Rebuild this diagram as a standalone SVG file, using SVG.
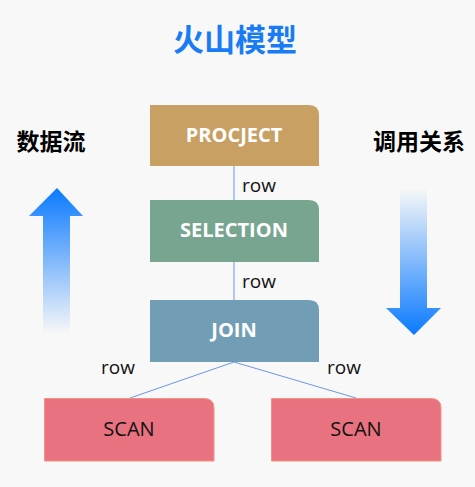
<svg xmlns="http://www.w3.org/2000/svg" width="475" height="487" viewBox="0 0 475 487">
<defs>
<linearGradient id="gUp" x1="0" y1="0" x2="0" y2="1">
<stop offset="0" stop-color="#0a7aff"/>
<stop offset="1" stop-color="#0a7aff" stop-opacity="0"/>
</linearGradient>
<linearGradient id="gDown" x1="0" y1="0" x2="0" y2="1">
<stop offset="0" stop-color="#0a7aff" stop-opacity="0"/>
<stop offset="1" stop-color="#0a7aff"/>
</linearGradient>
<style>
.t{font-family:"Open Sans","Liberation Sans",sans-serif;}
.nt{font-size:20px;font-weight:bold;fill:#ffffff;text-anchor:middle;}
.st{font-size:20px;fill:#111111;text-anchor:middle;}
.row{font-size:19px;fill:#111111;}
.cj{font-family:"Noto Sans CJK SC","Noto Sans",sans-serif;font-weight:bold;}
.ln{stroke:#6a96e8;stroke-width:1;fill:none;}
</style>
</defs>
<rect width="475" height="487" fill="#f8f8f8"/>
<text class="cj" x="235" y="51" font-size="31" fill="#1a7cf5" text-anchor="middle">火山模型</text>
<text class="cj" x="51" y="150" font-size="23" fill="#000" text-anchor="middle">数据流</text>
<text class="cj" x="419" y="150" font-size="23" fill="#000" text-anchor="middle">调用关系</text>
<g id="arrow-up"><path d="M57,188 L83,216 L70,216 L70,334 L43,334 L43,216 L29,216 Z" fill="url(#gUp)"/></g>
<g id="arrow-down"><path d="M400,188 L427,188 L427,308 L441,308 L414,335 L386,308 L400,308 Z" fill="url(#gDown)"/></g>
<g id="connectors">
<line class="ln" x1="234" y1="166" x2="234" y2="200"/>
<line class="ln" x1="234" y1="262" x2="234" y2="300"/>
<line class="ln" x1="234" y1="362" x2="130" y2="398"/>
<line class="ln" x1="234" y1="362" x2="356" y2="398"/>
<text class="t row" x="242" y="192">row</text>
<text class="t row" x="242" y="288">row</text>
<text class="t row" x="101" y="374">row</text>
<text class="t row" x="327" y="374">row</text>
</g>
<g id="procject"><path d="M150,105 H309 Q319,105 319,115 V166 H150 Z" fill="#c9a064"/><text class="t nt" x="234" y="142">PROCJECT</text></g>
<g id="selection"><path d="M150,200 H309 Q319,200 319,210 V262 H150 Z" fill="#77a58f"/><text class="t nt" x="234" y="237">SELECTION</text></g>
<g id="join"><path d="M150,300 H309 Q319,300 319,310 V362 H150 Z" fill="#719eb4"/><text class="t nt" x="234" y="337">JOIN</text></g>
<g id="scan-left"><path d="M44.5,398.5 H204 Q214,398.5 214,408 V461 H44.5 Z" fill="#e8727f" stroke="#f2937f" stroke-width="1"/><text class="t st" x="129" y="436">SCAN</text></g>
<g id="scan-right"><path d="M271.5,398.5 H431 Q441,398.5 441,408 V461 H271.5 Z" fill="#e8727f" stroke="#f2937f" stroke-width="1"/><text class="t st" x="356" y="436">SCAN</text></g>
</svg>
